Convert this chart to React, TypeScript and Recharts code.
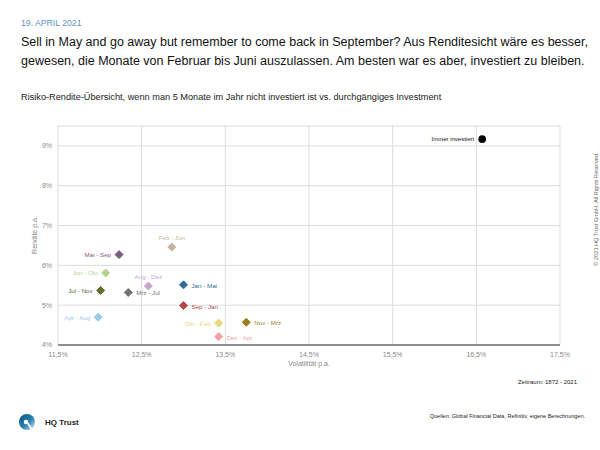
import React from "react"
import { ScatterChart, Scatter, XAxis, YAxis, CartesianGrid } from "recharts"

const FONT = '"Liberation Sans", Arial, Helvetica, sans-serif'

// Rendite/Volatilität je Ausstiegszeitraum (5 Monate nicht investiert)
const periods = [
  "Mai - Sep",
  "Feb - Jun",
  "Jun - Okt",
  "Aug - Dez",
  "Jan - Mai",
  "Jul - Nov",
  "Mrz - Jul",
  "Sep - Jan",
  "Apr - Aug",
  "Okt - Feb",
  "Dez - Apr",
  "Nov - Mrz",
]
const volatility = [12.23, 12.86, 12.07, 12.58, 13.0, 12.01, 12.34, 13.0, 11.98, 13.42, 13.42, 13.75]
const returns = [6.27, 6.46, 5.81, 5.48, 5.51, 5.37, 5.32, 4.99, 4.7, 4.55, 4.21, 4.57]

const benchmarkName = ["Immer investiert"]
const benchmarkVol = [16.57]
const benchmarkRet = [9.17]

const xTicks = [11.5, 12.5, 13.5, 14.5, 15.5, 16.5, 17.5]
const yTicks = [4, 5, 6, 7, 8, 9]

// styling per point
const pointColors = [
  "#7d5a82",
  "#c8b4a0",
  "#b3d48e",
  "#c9a3cf",
  "#2f6c98",
  "#5d6e2f",
  "#767171",
  "#b5474b",
  "#9bcbe8",
  "#e8d778",
  "#f1a3a3",
  "#9c7f1b",
]
const labelSides = [
  "left",
  "top",
  "left",
  "top",
  "right",
  "left",
  "right",
  "right",
  "left",
  "left",
  "right",
  "right",
]

const points = periods.map((name, i) => ({
  name,
  x: volatility[i],
  y: returns[i],
  color: pointColors[i],
  side: labelSides[i],
}))

const benchmark = benchmarkName.map((name, i) => ({
  name,
  x: benchmarkVol[i],
  y: benchmarkRet[i],
}))

function labelPos(cx: number, cy: number, side: string) {
  if (side === "left") return { x: cx - 8, y: cy, anchor: "end" }
  if (side === "right") return { x: cx + 8, y: cy + 0.5, anchor: "start" }
  return { x: cx, y: cy - 10, anchor: "middle" }
}

const Diamond = (props: any) => {
  const { cx, cy, payload } = props
  if (cx == null || cy == null) return null
  const r = 4
  const p = labelPos(cx, cy, payload.side)
  return (
    <g>
      <path
        d={`M${cx},${cy - r}L${cx + r},${cy}L${cx},${cy + r}L${cx - r},${cy}Z`}
        fill={payload.color}
        stroke={payload.color}
        strokeWidth={1}
        strokeLinejoin="round"
      />
      <text
        x={p.x}
        y={p.y}
        textAnchor={p.anchor as any}
        dominantBaseline="central"
        fontSize={6.2}
        fontFamily={FONT}
        fill={payload.color}
      >
        {payload.name}
      </text>
    </g>
  )
}

const Dot = (props: any) => {
  const { cx, cy, payload } = props
  if (cx == null || cy == null) return null
  return (
    <g>
      <circle cx={cx} cy={cy} r={3.8} fill="#000" />
      <text
        x={cx - 8}
        y={cy}
        textAnchor="end"
        dominantBaseline="central"
        fontSize={6}
        fontFamily={FONT}
        fill="#111"
      >
        {payload.name}
      </text>
    </g>
  )
}

const fmtX = (v: number) => v.toFixed(1).replace(".", ",") + "%"
const fmtY = (v: number) => `${v}%`

export default function App() {
  return (
    <div
      style={{
        position: "absolute",
        left: 0,
        top: 0,
        width: 600,
        height: 450,
        background: "#fff",
        overflow: "hidden",
        fontFamily: FONT,
      }}
    >
      <div style={{ position: "absolute", left: 21, top: 18.5, fontSize: 8.7, lineHeight: 1, color: "#5f93c2" }}>
        19. APRIL 2021
      </div>
      <div
        style={{
          position: "absolute",
          left: 21,
          top: 32.5,
          fontSize: 12.5,
          lineHeight: "19px",
          color: "#111",
          whiteSpace: "nowrap",
        }}
      >
        Sell in May and go away but remember to come back in September? Aus Renditesicht wäre es besser,
        <br />
        gewesen, die Monate von Februar bis Juni auszulassen. Am besten war es aber, investiert zu bleiben.
      </div>
      <div style={{ position: "absolute", left: 21, top: 93, fontSize: 9.2, lineHeight: 1, color: "#222" }}>
        Risiko-Rendite-Übersicht, wenn man 5 Monate im Jahr nicht investiert ist vs. durchgängiges Investment
      </div>

      <ScatterChart
        width={600}
        height={450}
        margin={{ top: 126, right: 40, bottom: 85, left: 18 }}
        style={{ position: "absolute", left: 0, top: 0 }}
      >
        <CartesianGrid stroke="#dcdcdc" strokeWidth={1} />
        <XAxis
          type="number"
          dataKey="x"
          domain={[11.5, 17.5]}
          ticks={xTicks}
          tickFormatter={fmtX}
          axisLine={{ stroke: "#333", strokeWidth: 1 }}
          tickLine={false}
          tickSize={5}
          tick={{ fontSize: 7, fill: "#8a8a8a", fontFamily: FONT }}
          height={20}
        />
        <YAxis
          type="number"
          dataKey="y"
          domain={[4, 9.5]}
          ticks={yTicks}
          tickFormatter={fmtY}
          axisLine={false}
          tickLine={false}
          tickSize={4}
          tick={{ fontSize: 7, fill: "#8a8a8a", fontFamily: FONT }}
          width={40}
        />
        <Scatter data={points} shape={Diamond} isAnimationActive={false} />
        <Scatter data={benchmark} shape={Dot} isAnimationActive={false} />
      </ScatterChart>

      <div
        style={{
          position: "absolute",
          left: 34,
          top: 235,
          fontSize: 7,
          lineHeight: 1,
          color: "#8a8a8a",
          whiteSpace: "nowrap",
          transform: "translate(-50%, -50%) rotate(-90deg)",
        }}
      >
        Rendite p.a.
      </div>
      <div
        style={{
          position: "absolute",
          left: 309,
          top: 363,
          fontSize: 7,
          lineHeight: 1,
          color: "#8a8a8a",
          whiteSpace: "nowrap",
          transform: "translate(-50%, -50%)",
        }}
      >
        Volatilität p.a.
      </div>
      <div
        style={{
          position: "absolute",
          left: 597,
          top: 209,
          fontSize: 5.6,
          lineHeight: 1,
          color: "#666",
          whiteSpace: "nowrap",
          transform: "translate(-50%, -50%) rotate(-90deg)",
        }}
      >
        © 2021 HQ Trust GmbH. All Rights Reserved.
      </div>
      <div
        style={{
          position: "absolute",
          right: 23,
          top: 378.5,
          fontSize: 6,
          lineHeight: 1,
          color: "#222",
          whiteSpace: "nowrap",
        }}
      >
        Zeitraum: 1872 - 2021
      </div>
      <div
        style={{
          position: "absolute",
          right: 15,
          top: 414.2,
          fontSize: 5.5,
          lineHeight: 1,
          color: "#222",
          whiteSpace: "nowrap",
        }}
      >
        Quellen: Global Financial Data, Refinitiv, eigene Berechnungen.
      </div>

      <svg width={24} height={24} style={{ position: "absolute", left: 15, top: 410 }}>
        <defs>
          <linearGradient id="hqg" x1="0" y1="0" x2="1" y2="1">
            <stop offset="0" stopColor="#0c4f7e" />
            <stop offset="0.55" stopColor="#2a83b3" />
            <stop offset="1" stopColor="#e6f0f6" />
          </linearGradient>
        </defs>
        <circle cx={12} cy={12} r={8} fill="url(#hqg)" />
        <circle cx={11} cy={12} r={2.2} fill="#fff" />
        <path d="M12.5,13 L18,21" stroke="#fff" strokeWidth={1.6} />
      </svg>
      <div
        style={{
          position: "absolute",
          left: 45,
          top: 418.5,
          fontSize: 8,
          fontWeight: 700,
          lineHeight: 1,
          color: "#222",
          whiteSpace: "nowrap",
        }}
      >
        HQ Trust
      </div>
    </div>
  )
}
